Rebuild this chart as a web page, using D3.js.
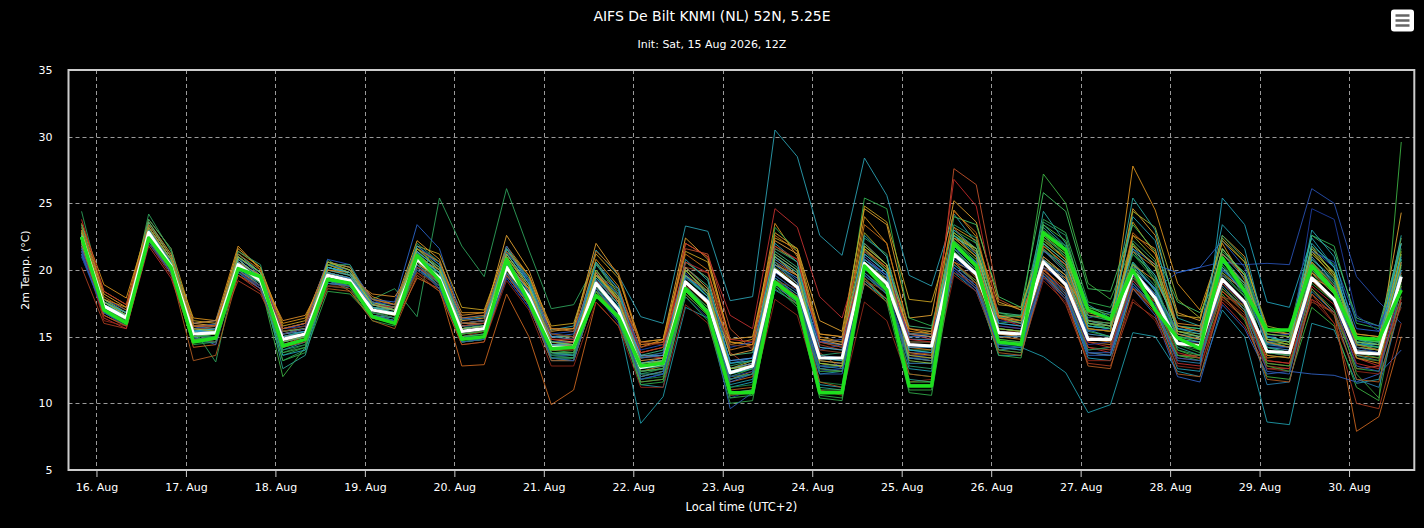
<!DOCTYPE html>
<html>
<head>
<meta charset="utf-8">
<script src="https://cdn.jsdelivr.net/npm/d3@7"></script>
<style>
html,body{margin:0;padding:0;background:#000;}
svg{display:block;}
</style>
</head>
<body>
<svg id="chart" width="1424" height="528"></svg>
<script>
// ---------- DATA ----------
const titleText = "AIFS De Bilt KNMI (NL) 52N, 5.25E";
const subtitleText = "Init: Sat, 15 Aug 2026, 12Z";
const yAxisTitle = "2m Temp. (°C)";
const xAxisTitle = "Local time (UTC+2)";
const initTime = "2026-08-15T18:00:00Z";   // first valid time (UTC)
const stepHours = 6;
const utcOffsetHours = 2;
const yTicks = [5, 10, 15, 20, 25, 30, 35];
const dayLabels = ["16. Aug","17. Aug","18. Aug","19. Aug","20. Aug","21. Aug","22. Aug","23. Aug",
                   "24. Aug","25. Aug","26. Aug","27. Aug","28. Aug","29. Aug","30. Aug"];

// ensemble mean (white)
const meanSeries = [22.5,17.3,16.4,22.8,20.3,15.2,15.3,20.4,19.2,14.8,
                    15.2,19.6,19.2,17.0,16.7,20.8,19.4,15.4,15.6,20.2,
                    18.0,14.2,14.2,19.0,17.0,12.7,13.0,19.1,17.6,12.3,
                    12.8,20.0,18.7,13.4,13.4,20.5,19.0,14.4,14.3,21.2,
                    19.7,15.3,15.2,20.6,18.9,14.8,14.8,19.9,17.9,14.5,
                    14.3,19.3,17.6,13.9,13.8,19.4,17.8,13.8,13.7,19.5];
// control run (bright green)
const controlSeries = [22.5,17.0,16.0,22.4,20.2,14.6,14.9,20.1,19.5,14.3,
                       14.8,19.3,19.0,16.5,16.0,21.1,19.2,14.8,15.0,20.8,
                       17.6,14.1,14.2,18.1,16.5,12.8,13.0,18.6,16.8,10.8,
                       10.8,19.1,17.8,10.8,10.8,20.3,18.5,11.3,11.3,22.0,
                       20.3,14.6,14.4,22.8,21.5,17.0,16.3,20.0,17.0,14.9,
                       14.1,20.9,18.4,15.5,15.5,20.3,18.4,14.9,14.8,18.5];

// ensemble members
const m01 = [22.0,17.6,16.8,23.0,20.8,15.8,15.9,20.9,19.8,15.6, 16.0,20.2,19.8,17.5,17.2,21.3,20.2,16.3,16.5,21.3, 19.4,15.5,15.8,21.5,19.6,16.5,16.0,23.3,22.9,17.7, 18.0,30.5,28.5,22.6,21.1,28.4,25.6,19.6,18.8,24.2, 22.0,16.5,16.0,21.5,19.8,15.5,15.0,20.5,18.5,15.0, 14.8,20.0,18.5,14.5,14.2,20.5,18.6,14.5,14.0,20.0];
const m02 = [23.0,17.0,16.0,22.4,19.8,14.8,14.8,19.8,18.6,14.0, 14.6,19.0,18.8,16.6,16.2,20.2,18.8,14.8,15.0,19.6, 17.4,13.4,13.4,18.2,16.2,8.5,10.5,17.2,16.4,11.4, 11.8,18.5,17.5,12.2,12.4,19.0,17.8,13.4,13.2,19.8, 18.4,14.0,14.2,13.5,12.3,9.3,9.9,15.3,15.0,12.4, 12.0,17.0,15.0,8.6,8.4,16.0,15.5,11.5,11.8,17.5];
const m03 = [24.4,17.8,16.6,24.2,21.4,15.6,13.1,20.6,19.0,13.2, 14.0,20.8,19.6,17.8,18.6,16.5,25.4,21.8,19.5,26.1, 21.5,17.1,17.4,20.5,18.0,13.5,13.8,19.5,18.0,13.0, 13.2,21.0,19.6,14.2,14.0,21.5,20.0,15.0,15.2,22.0, 20.5,16.0,16.2,22.0,20.0,15.8,15.6,20.5,18.4,15.2, 15.0,20.0,18.4,14.6,14.8,20.4,18.6,14.6,14.6,20.2];
const m04 = [22.8,17.2,16.2,22.6,20.4,15.0,15.2,20.2,19.0,12.0, 14.2,19.8,19.4,17.2,16.8,20.6,19.2,15.2,15.4,20.0, 17.6,13.6,13.6,18.6,16.4,12.0,12.4,18.6,17.2,12.0, 12.6,19.4,18.2,12.8,12.8,20.2,18.8,14.0,14.0,23.0, 22.0,16.8,16.4,27.2,25.0,19.0,17.8,22.0,19.0,14.0, 13.4,18.2,16.2,12.0,11.8,17.2,15.8,11.2,10.2,29.6];
const m05 = [23.5,18.9,17.9,23.4,21.0,16.4,16.2,21.8,20.0,16.0, 16.4,20.4,19.8,18.0,17.4,21.6,20.6,16.8,16.8,21.8, 19.6,15.0,15.0,20.8,18.8,13.8,14.2,22.0,21.0,14.6, 14.4,23.5,21.0,15.0,14.6,24.0,22.0,15.6,15.2,24.5, 22.5,16.5,16.5,21.5,20.0,16.0,15.6,27.8,24.5,19.0, 17.0,22.0,19.2,14.6,14.2,20.0,18.4,14.2,14.0,22.0];
const m06 = [21.4,16.6,15.8,22.0,19.8,14.6,14.8,19.8,18.6,14.4, 15.0,19.0,18.8,16.8,16.4,20.2,19.0,15.2,15.4,20.0, 18.2,14.2,14.4,19.6,18.6,14.4,14.6,21.6,21.2,15.6, 14.0,20.6,19.6,13.8,12.6,21.0,19.6,13.6,13.4,27.6, 26.4,17.8,17.0,20.2,18.2,14.2,14.0,18.6,16.8,13.6, 13.6,18.4,17.0,13.2,13.0,18.6,16.8,12.6,12.8,18.0];
const m07 = [22.2,16.8,16.0,22.4,20.2,14.2,14.4,20.2,19.0,14.6, 15.0,19.4,18.4,16.4,16.0,19.4,18.6,12.8,12.9,18.2, 15.0,9.9,11.0,17.6,15.8,12.0,12.4,18.2,16.6,11.6, 12.0,19.0,17.4,12.6,12.4,19.0,17.6,13.4,13.2,20.2, 18.6,14.6,14.4,19.6,17.8,13.8,13.6,18.8,17.0,13.6, 13.4,18.4,16.8,13.0,12.8,18.6,16.8,7.9,9.0,15.0];
const m08 = [23.2,18.2,17.2,23.6,21.2,16.0,15.8,21.6,20.2,15.4, 15.6,20.6,20.2,17.8,17.4,22.2,20.8,16.2,16.4,22.6, 20.0,15.4,15.6,22.0,19.6,14.2,14.8,22.4,20.8,14.8, 15.0,22.8,21.6,16.2,15.4,24.6,23.4,16.4,16.6,25.2, 23.6,17.6,17.0,22.4,20.8,16.2,16.0,24.6,22.6,16.8, 16.2,22.6,21.0,15.2,15.0,21.4,19.4,15.0,14.8,24.3];
const m09 = [21.2,17.8,16.8,22.6,20.6,15.6,16.0,20.6,19.6,15.6, 16.0,20.6,20.2,17.8,17.0,21.8,20.6,16.0,16.2,21.0, 18.6,14.6,14.6,19.4,17.8,13.4,13.8,19.8,18.0,13.2, 13.4,20.6,19.2,14.0,14.4,21.0,19.6,15.2,15.0,21.6, 20.6,16.2,16.0,21.6,20.0,16.4,16.8,20.0,18.6,19.8, 20.2,20.6,20.4,20.5,20.4,26.1,25.0,19.5,17.6,16.0];
const m10 = [22.6,17.4,16.6,23.0,20.6,15.4,15.6,20.6,19.4,14.2, 14.8,19.4,19.0,16.8,16.4,21.0,19.6,15.2,15.4,20.6, 18.2,14.0,13.8,19.2,17.0,12.4,12.6,19.6,18.2,12.2, 12.6,23.2,21.4,14.6,14.2,25.4,24.6,16.4,15.8,22.6, 21.6,16.6,16.6,23.8,22.8,17.6,17.2,21.2,19.6,15.8, 15.6,21.4,19.8,15.6,15.4,22.6,21.8,16.0,15.6,21.6];
const m11 = [21.0,17.0,16.2,22.4,20.0,15.0,14.4,20.0,18.8,14.6, 15.0,19.8,19.4,17.2,17.0,20.6,19.2,15.0,15.0,19.4, 17.2,13.6,13.4,18.4,16.4,11.8,12.2,18.6,17.0,11.6, 12.2,19.4,18.0,12.6,12.8,19.6,18.2,13.4,13.4,20.0, 18.6,14.2,14.0,19.6,18.0,13.6,13.6,18.6,16.6,12.0, 11.6,17.4,15.6,12.2,12.4,12.2,12.1,11.6,12.2,14.0];
const m12 = [21.6,17.2,16.4,22.6,20.2,15.4,15.6,20.4,19.4,15.0, 15.4,20.2,19.8,17.4,17.0,21.2,19.8,15.8,16.0,20.8, 18.4,14.6,14.6,19.6,17.6,13.0,13.4,19.6,18.0,12.6, 13.0,20.4,19.4,13.6,13.4,20.8,19.6,14.4,14.2,21.4, 19.8,15.2,15.0,20.8,19.4,15.0,14.8,20.4,18.6,15.2, 14.8,20.6,18.8,14.4,14.2,20.6,19.0,14.4,14.4,20.6];
const m13 = [22.4,16.8,15.8,22.2,19.8,14.4,14.6,19.8,19.2,13.6, 14.2,18.8,18.6,16.2,15.8,20.4,18.8,14.6,14.8,20.2, 17.6,13.6,13.8,18.6,16.4,12.2,12.6,18.2,16.6,10.6, 10.8,18.6,17.4,10.8,10.8,19.6,18.2,11.4,11.4,21.6, 20.0,14.6,14.4,22.4,21.2,16.6,16.2,19.6,17.0,14.4, 13.8,20.4,18.0,14.8,14.8,19.8,17.6,14.4,14.2,18.4];
const m14 = [20.2,16.0,15.6,22.0,19.6,14.8,15.0,19.2,18.2,14.6, 15.2,19.2,18.8,16.6,16.4,20.0,18.8,15.0,15.4,19.6, 17.4,14.0,14.2,18.6,17.6,14.2,14.6,20.2,19.8,13.8, 12.6,21.6,20.8,14.4,14.0,19.2,17.8,13.6,13.8,20.6, 19.2,14.4,14.6,19.6,17.4,13.0,12.8,17.6,16.4,13.4, 13.2,17.8,16.4,12.8,12.6,18.2,16.0,10.0,9.6,16.0];
const m15 = [21.8,16.4,15.6,21.8,19.4,14.6,14.8,19.6,18.4,14.4, 14.8,19.2,18.8,16.8,16.4,20.6,19.2,15.6,15.8,20.4, 18.6,14.4,14.6,19.8,17.6,13.6,13.4,22.0,21.0,16.6, 15.6,24.6,23.2,18.0,16.4,22.0,20.4,15.2,14.8,23.2, 21.2,15.8,15.6,20.0,18.4,14.2,13.8,19.6,17.2,13.0, 12.8,17.6,15.8,12.6,12.6,17.8,16.8,13.4,12.8,18.8];
const m16 = [22.6,17.6,16.8,23.2,20.8,15.8,15.6,21.0,19.6,15.2, 15.6,19.6,19.0,17.6,17.2,20.6,19.0,15.6,15.8,21.6, 19.2,15.2,15.0,20.6,18.2,13.4,13.6,19.0,17.6,12.6, 13.2,21.8,20.6,14.6,14.4,22.8,21.0,15.2,15.4,22.6, 21.0,16.4,16.0,20.8,19.6,15.6,15.4,24.4,23.2,17.8, 16.4,22.4,20.6,15.8,15.4,21.4,19.8,15.2,15.0,22.4];
const m17 = [22.0,17.0,16.2,22.6,20.0,15.0,15.0,20.2,18.8,13.6, 14.0,19.2,18.6,16.6,16.4,20.2,18.6,14.8,14.8,19.8, 17.4,13.2,13.2,18.4,16.4,11.4,11.2,18.4,17.0,11.2, 11.6,18.8,17.6,11.4,11.2,19.2,17.8,12.6,12.4,20.2, 18.8,13.6,13.6,19.6,18.0,13.4,13.2,18.8,17.2,12.6, 12.4,25.4,23.4,17.6,17.2,22.4,20.2,14.6,14.2,20.4];
const m18 = [23.0,17.6,16.6,23.6,21.0,15.6,15.6,21.2,19.8,15.4, 15.6,20.4,20.0,17.6,17.2,21.4,20.0,16.0,16.2,21.2, 19.0,15.0,15.0,20.0,18.0,13.6,14.0,20.2,18.8,13.6, 13.8,21.4,20.2,14.8,14.6,22.0,20.4,15.8,15.6,22.6, 21.4,16.8,16.6,23.2,21.6,17.2,16.8,21.4,19.4,15.8, 15.6,21.2,19.8,15.0,14.6,22.6,21.4,16.4,15.8,22.0];
const m19 = [21.4,16.8,15.8,22.2,19.8,14.8,15.0,20.0,18.6,14.2, 14.6,19.0,18.8,16.4,16.2,20.2,18.6,14.6,14.8,19.4, 17.2,13.6,13.6,18.2,16.0,11.8,12.2,18.0,16.4,10.4, 11.0,19.0,17.8,12.4,12.6,19.6,18.2,13.6,13.6,20.0, 18.4,14.4,14.4,19.4,17.8,14.0,14.2,18.8,17.4,14.8, 14.6,19.0,17.6,14.2,14.2,24.6,23.8,16.6,15.4,20.8];
const m20 = [22.8,17.4,16.4,23.2,20.4,15.4,15.4,20.8,19.4,15.0, 15.4,20.2,19.6,17.2,17.0,21.4,19.6,15.6,15.8,20.4, 18.2,14.4,14.4,19.6,17.4,12.8,13.2,19.4,18.0,12.8, 13.2,20.6,19.0,13.6,13.8,21.4,19.8,14.6,14.6,22.2, 20.6,16.4,16.6,22.6,21.0,16.2,16.0,20.6,18.8,15.0, 14.8,19.6,18.0,14.8,14.6,20.8,19.4,14.8,14.6,19.6];
const m21 = [22.6,17.2,16.2,22.6,20.2,15.2,15.4,20.0,18.8,14.8, 15.2,19.8,19.4,17.2,17.0,20.4,19.0,15.4,15.6,20.0, 17.8,14.0,14.0,18.8,17.0,12.4,12.8,19.0,17.4,11.8, 12.4,20.2,19.0,13.0,12.8,20.6,19.2,14.2,14.0,21.2, 19.4,15.0,14.8,20.0,18.6,14.6,14.4,21.4,20.2,14.8, 14.4,18.6,17.2,13.4,13.6,19.2,17.6,13.6,13.4,19.2];
const m22 = [22.2,17.4,16.6,22.8,20.4,15.4,15.4,20.6,19.2,15.0, 15.4,19.8,19.4,17.0,16.8,20.8,19.4,15.4,15.6,20.2, 18.0,14.2,14.2,19.2,17.2,12.6,12.8,19.2,17.6,12.2, 12.6,20.0,18.8,13.2,13.0,20.4,19.0,14.4,14.2,21.8, 20.6,15.4,15.2,24.4,22.0,17.4,16.4,25.4,23.0,16.4, 15.8,20.6,19.0,15.0,14.6,20.8,19.2,14.8,14.4,22.6];
const m23 = [21.8,16.2,15.8,22.4,20.0,14.8,14.6,19.8,18.8,14.4, 14.8,18.8,18.6,16.6,16.0,19.8,18.4,14.4,14.6,19.2, 17.0,12.8,12.8,17.6,15.8,11.2,11.2,17.4,16.0,10.6, 10.8,17.8,16.6,11.0,10.6,17.6,16.2,11.6,11.8,19.6, 18.4,14.0,13.8,19.2,17.6,13.2,13.2,17.8,16.2,12.8, 12.6,18.0,16.6,12.6,12.4,17.8,16.0,12.4,12.2,18.6];
const m24 = [21.6,17.8,17.0,23.0,20.8,16.0,16.2,21.0,19.6,15.6, 16.0,20.4,20.0,17.8,17.6,23.4,21.6,16.4,16.2,21.8, 19.2,15.0,15.2,20.4,18.6,13.4,13.6,20.2,18.6,13.0, 13.4,21.2,20.0,14.6,14.4,20.8,19.6,15.0,15.0,21.8, 20.6,16.0,15.8,21.4,20.4,16.0,15.8,21.6,20.4,19.8, 20.2,22.2,20.2,15.4,15.2,21.6,20.2,15.6,15.4,20.8];
const m25 = [23.4,18.4,17.4,23.8,21.6,16.2,16.0,21.4,20.2,15.8, 16.2,20.6,20.2,17.6,17.0,21.8,21.2,17.2,17.0,21.6, 19.6,15.8,16.0,21.2,19.4,14.6,14.8,21.4,20.6,14.4, 14.8,22.4,21.6,15.2,15.0,24.8,23.6,17.8,17.6,23.2, 22.2,17.4,17.2,22.2,20.8,16.8,16.4,23.6,21.2,16.6, 16.4,22.2,20.6,15.6,15.2,21.8,19.6,15.0,14.8,21.2];
const m26 = [22.0,17.6,16.8,23.2,20.6,15.6,15.6,20.8,19.4,15.2, 15.4,20.2,19.8,17.4,17.2,21.4,20.0,16.0,16.2,21.2, 19.0,15.0,14.8,19.8,17.6,13.6,13.6,20.0,18.2,13.2, 13.4,20.8,19.6,14.2,14.0,21.2,19.8,14.8,14.8,21.6, 20.0,15.6,15.4,21.0,19.6,15.2,15.0,20.2,18.6,15.4, 15.0,21.2,19.4,14.2,14.0,21.0,19.0,14.2,14.0,20.6];
const m27 = [22.2,17.0,16.4,22.6,20.0,15.0,15.2,20.2,19.0,14.8, 15.0,19.6,19.2,16.8,16.6,20.6,19.2,15.2,15.4,19.8, 17.8,13.8,13.6,18.8,16.8,12.4,12.6,18.8,17.2,11.8, 12.2,19.4,17.8,12.4,12.4,19.6,18.2,13.0,13.0,20.4, 19.2,14.4,14.6,19.8,18.4,14.0,14.2,19.4,17.6,13.6, 13.4,18.6,17.0,12.8,12.4,19.0,17.6,12.2,10.4,19.0];
const m28 = [22.4,17.6,16.6,23.0,20.6,15.6,15.4,20.8,19.4,15.2, 15.6,20.0,19.6,17.0,16.6,21.0,20.0,16.0,16.0,21.0, 18.8,14.8,14.6,19.8,17.8,13.2,13.4,20.6,19.4,13.6, 14.0,22.2,21.2,14.8,14.4,21.8,20.4,15.2,15.0,22.4, 21.6,16.6,16.2,21.8,20.4,16.2,15.8,21.8,20.4,15.8, 15.4,20.8,19.0,14.8,14.4,19.8,18.2,14.0,13.8,19.8];
const m29 = [21.2,16.8,16.0,22.4,20.0,15.0,15.2,20.0,19.0,14.4, 14.8,19.0,18.8,16.8,16.4,20.2,18.8,14.8,15.0,19.6, 17.6,13.8,13.6,18.6,16.6,12.0,12.4,18.4,16.8,11.8, 12.2,19.4,18.2,12.8,12.6,19.8,18.4,13.4,13.2,20.4, 19.0,14.4,14.2,19.8,18.2,13.8,13.6,19.2,17.4,13.2, 13.0,18.8,17.0,11.4,11.6,18.4,16.8,11.8,11.2,17.6];
const m30 = [22.6,17.4,16.4,22.8,20.4,15.2,15.4,20.4,19.2,14.8, 15.2,19.6,19.2,17.0,16.8,20.8,19.4,15.4,15.6,20.2, 18.0,14.2,14.2,19.0,17.0,12.8,13.0,19.2,17.6,12.4, 12.8,20.0,18.8,13.4,13.4,20.6,19.2,14.4,14.4,24.0, 23.4,18.0,17.2,25.8,24.4,18.6,18.4,23.4,21.4,17.6, 16.8,20.2,18.6,14.6,14.4,20.2,18.6,14.4,14.2,20.8];
const m31 = [22.0,17.0,16.0,22.4,20.0,14.8,15.0,19.8,18.8,13.2, 13.8,18.4,18.2,16.4,16.0,20.0,18.8,14.6,14.8,19.8, 17.6,13.4,13.2,18.4,16.2,11.4,11.6,18.0,16.2,10.0, 10.2,18.8,17.2,10.4,10.2,19.4,17.6,10.8,10.6,20.6, 19.0,13.6,13.4,21.6,20.2,15.4,15.0,19.0,17.2,13.6, 13.2,19.0,17.2,13.0,12.8,18.6,17.0,12.6,12.4,18.0];
const m32 = [22.8,17.2,16.2,22.8,20.2,14.6,14.6,20.4,19.6,12.6, 13.6,19.2,19.0,16.6,16.2,21.0,19.6,15.0,15.2,20.6, 18.0,13.8,13.6,18.8,16.6,12.2,12.2,18.8,17.0,10.8, 11.0,19.6,18.4,11.2,11.0,20.2,18.6,11.8,11.6,21.8, 20.2,14.2,14.0,22.8,21.8,16.2,15.8,20.6,18.4,14.2, 13.6,21.0,19.0,14.2,13.8,20.6,18.8,13.6,13.2,19.6];
const m33 = [22.2,17.8,17.2,22.6,20.6,16.0,16.2,20.2,19.6,16.2, 16.6,19.8,19.4,18.2,18.0,20.4,19.6,16.6,16.8,20.2, 18.6,15.6,15.6,19.6,18.0,14.6,14.8,19.6,18.4,14.6, 14.4,20.4,19.6,15.2,15.0,20.2,19.4,15.6,15.4,20.6, 19.8,16.4,16.2,20.2,19.4,16.6,16.4,20.4,19.2,16.0, 15.8,19.6,18.6,15.4,15.2,19.4,18.6,15.2,15.0,19.2];
const m34 = [21.4,17.4,16.6,22.4,20.4,15.6,15.8,20.2,19.2,15.6, 15.8,20.8,20.4,17.6,17.4,21.6,20.4,16.4,16.6,21.4, 19.2,15.2,15.4,19.8,18.2,14.0,14.4,19.4,18.4,14.2, 14.6,19.8,18.8,14.6,14.8,20.0,19.2,15.2,15.2,20.8, 19.6,15.8,15.6,20.2,19.0,15.4,15.6,19.6,18.0,15.6, 15.4,20.0,18.6,15.0,15.2,21.4,20.6,16.2,15.8,19.2];
const m35 = [23.4,17.6,16.4,23.8,21.6,15.4,15.2,21.4,20.4,14.0, 14.4,20.4,20.4,17.4,17.2,22.0,20.6,15.8,16.0,21.6, 19.4,14.6,14.4,20.4,18.4,12.6,12.8,20.6,19.4,12.0, 12.2,21.6,20.6,12.6,12.4,22.4,21.2,12.8,12.6,23.4, 22.4,15.6,15.4,23.6,22.6,16.6,16.2,22.2,20.6,14.6, 14.4,22.6,20.8,14.2,13.8,21.8,20.4,14.2,14.0,21.2];
const m36 = [21.8,17.0,16.2,22.2,20.0,15.6,15.6,19.6,18.8,15.4, 15.8,18.8,18.8,17.0,16.8,19.8,18.8,16.0,16.2,19.6, 18.4,15.2,15.0,18.8,17.8,14.6,14.4,18.8,17.8,14.4, 14.2,19.2,18.6,14.0,13.8,19.2,18.4,14.6,14.6,19.8, 19.0,15.4,15.4,19.4,18.6,15.0,14.8,18.6,17.6,14.4, 14.2,18.0,17.4,13.8,13.6,17.6,16.8,13.4,13.2,17.2];
const m37 = [23.0,17.8,16.8,23.2,20.8,15.2,15.2,21.0,19.8,14.8, 15.2,20.4,19.8,17.2,16.8,21.6,20.0,15.4,15.6,21.0, 18.6,14.4,14.2,20.0,17.8,12.8,13.0,20.0,18.2,12.6, 12.8,21.0,19.8,13.0,12.8,21.6,20.0,13.6,13.4,22.8, 21.4,15.6,15.4,22.0,20.6,15.6,15.4,22.6,20.8,15.4, 15.2,21.6,19.6,14.8,14.4,21.2,19.6,14.2,14.0,21.4];
const m38 = [22.4,17.6,16.8,23.4,21.0,15.4,15.4,21.2,19.8,14.6, 15.0,20.0,19.6,17.2,17.0,21.8,20.4,15.8,15.8,21.6, 19.0,14.6,14.4,20.6,18.6,13.0,13.2,20.8,19.2,13.0, 13.2,22.0,20.6,13.4,13.2,22.6,21.0,14.0,13.8,23.0, 21.6,15.4,15.2,23.4,21.8,15.8,15.6,24.0,22.2,15.6, 15.4,23.4,21.6,15.0,14.6,23.0,21.0,14.8,14.6,22.0];
const m39 = [23.8,18.4,17.4,23.2,20.6,15.8,15.8,20.6,19.4,15.6, 16.0,19.4,19.0,17.4,17.2,20.2,19.2,15.8,16.0,19.8, 18.4,14.8,14.8,19.2,17.8,13.8,14.2,20.6,19.8,14.8, 14.6,21.8,20.8,14.6,14.2,21.4,20.2,14.8,14.6,26.8, 24.8,16.4,15.8,20.6,18.8,14.6,14.2,19.2,17.6,13.8, 13.4,19.0,17.4,13.2,13.0,18.8,17.4,13.0,12.6,17.8];
const m40 = [22.6,17.2,16.2,23.0,20.6,15.0,15.0,20.6,19.4,13.8, 14.4,19.8,19.4,16.8,16.4,21.0,19.6,14.8,15.0,20.4, 18.2,13.6,13.4,19.0,17.0,11.8,12.0,19.2,17.6,11.2, 11.4,20.2,18.8,11.6,11.4,20.8,19.2,12.2,12.0,22.4, 21.0,14.8,14.6,23.0,21.8,16.0,15.6,21.2,19.2,14.4, 14.0,20.4,18.6,13.6,13.4,20.6,19.0,13.4,13.2,20.8];
const m41 = [21.0,16.8,16.0,22.0,19.8,15.2,15.4,19.8,18.8,15.2, 15.6,19.6,19.4,17.0,16.8,20.0,18.8,15.0,15.2,19.6, 17.6,13.8,13.8,18.6,16.8,12.4,12.6,18.6,17.0,12.0, 12.4,19.6,18.4,12.8,13.0,19.6,18.4,13.8,13.8,20.2, 18.8,14.6,14.6,19.8,18.4,14.4,14.6,19.8,18.2,14.6, 14.6,19.6,18.6,14.6,14.8,20.2,18.8,14.2,13.8,18.6];
const m42 = [22.8,17.4,16.4,22.8,20.4,15.2,15.2,20.6,19.6,15.0, 15.2,20.0,19.8,17.4,17.0,21.2,19.8,15.6,15.8,20.6, 18.6,14.4,14.4,19.8,17.6,12.8,13.2,20.2,18.6,12.6, 13.0,21.0,19.6,13.2,13.0,21.6,20.2,13.8,13.6,22.4, 21.0,15.2,15.0,21.0,19.6,14.8,14.6,22.6,21.6,15.2, 14.8,19.8,18.4,13.6,13.4,19.8,18.6,13.4,13.0,19.4];
const m43 = [22.4,17.2,16.4,22.6,20.4,15.0,15.2,20.4,19.4,14.4, 14.8,19.4,19.0,16.6,16.2,21.2,19.8,15.0,15.2,20.8, 18.0,13.8,13.8,18.6,16.6,12.4,12.6,18.6,17.0,10.8, 11.0,19.2,18.0,11.0,11.0,20.4,18.8,11.6,11.6,22.2, 20.8,14.8,14.6,23.4,22.2,17.2,16.6,20.4,17.6,15.0, 14.6,20.8,18.8,15.2,15.0,20.6,18.6,14.8,14.6,19.2];
const m44 = [21.8,17.2,16.4,22.8,20.4,15.4,15.4,20.6,19.2,15.0, 15.2,19.8,19.4,17.4,17.0,21.0,19.8,15.6,15.8,20.4, 18.2,14.4,14.2,19.2,17.2,12.8,13.0,19.2,17.8,12.6, 13.0,20.4,19.0,13.4,13.4,20.8,19.4,14.2,14.2,21.0, 19.6,15.0,15.0,20.8,19.2,14.8,14.8,20.0,18.2,14.8, 14.6,20.2,18.2,13.8,13.6,20.0,18.4,14.0,13.8,20.0];
const m45 = [22.0,16.6,15.8,22.2,19.8,13.2,13.6,19.6,18.6,14.2, 14.6,18.6,18.4,16.2,15.6,19.6,18.4,14.4,14.6,19.6, 17.4,13.2,13.2,18.4,16.6,11.6,11.8,18.4,16.8,11.0, 11.2,19.2,18.0,11.6,11.2,19.4,17.8,12.2,12.0,20.6, 19.0,13.8,13.6,19.8,18.0,12.8,12.6,18.6,17.0,12.2, 12.0,18.0,16.4,11.8,11.6,18.2,16.6,11.8,11.6,17.6];
const m46 = [22.6,17.4,16.6,23.0,20.6,15.4,15.6,20.8,19.4,14.8, 15.2,20.2,19.8,17.2,16.8,21.0,19.8,15.6,15.8,20.6, 18.4,14.4,14.4,19.4,17.4,13.0,13.2,19.6,18.0,12.4, 12.8,21.0,19.8,13.4,13.2,21.2,19.8,14.0,13.8,22.6, 21.2,16.0,15.8,22.0,20.6,15.8,15.6,21.6,19.6,15.6, 15.2,21.6,19.6,14.6,14.2,22.0,20.2,14.6,14.4,21.0];
const m47 = [22.2,17.0,16.0,22.4,20.0,14.8,14.8,20.2,19.0,13.8, 14.2,19.2,18.8,16.4,16.0,20.4,19.0,14.6,14.8,20.0, 17.8,13.4,13.4,18.4,16.4,11.6,11.8,18.4,16.8,10.4, 10.6,19.0,17.6,10.6,10.4,19.8,18.4,11.0,11.0,21.4, 20.0,14.0,13.8,22.2,21.0,16.0,15.6,19.8,17.8,14.0, 13.6,19.8,18.0,13.8,13.6,20.0,18.2,13.8,13.4,18.8];
const m48 = [23.0,18.0,17.0,23.4,21.0,15.8,15.8,21.2,20.0,15.6, 16.0,20.6,20.0,17.8,17.4,21.6,20.6,16.4,16.6,21.4, 19.6,15.6,15.4,21.4,19.8,14.4,14.6,21.2,20.0,14.0, 14.4,22.6,21.4,14.8,14.6,23.4,22.0,15.4,15.2,24.4, 22.8,16.4,16.2,21.8,20.4,15.6,15.4,22.8,21.2,15.8, 15.4,21.2,19.6,14.6,14.2,20.6,18.8,14.4,14.0,20.6];
const m49 = [21.2,16.8,16.0,22.2,19.8,14.6,14.8,19.8,18.6,14.6, 15.0,19.2,18.8,16.6,16.2,20.4,19.0,14.6,14.8,19.8, 17.6,13.4,13.2,18.6,16.6,11.8,12.2,18.6,16.8,9.6, 10.8,19.2,17.8,12.2,12.2,19.8,18.2,13.0,13.0,20.2, 18.8,14.2,14.2,19.6,18.0,13.8,13.8,19.0,17.2,13.4, 13.2,19.2,17.4,12.4,12.2,19.4,17.6,12.8,12.4,18.6];
const m50 = [22.8,17.6,16.6,23.2,20.8,15.6,15.4,21.0,19.8,14.6, 15.0,20.6,20.0,17.4,17.0,21.6,20.2,15.6,15.8,21.2, 18.8,14.6,14.4,19.6,17.8,13.0,13.2,20.0,18.4,12.6, 12.8,21.2,20.0,13.0,12.8,21.8,20.4,13.2,13.0,22.8, 21.6,15.6,15.4,22.6,21.2,16.0,15.8,22.0,20.2,15.4, 15.0,21.6,19.6,14.8,14.6,21.6,19.8,14.6,14.4,20.4];

const members = [m01,m02,m03,m04,m05,m06,m07,m08,m09,m10,m11,m12,m13,m14,m15,m16,m17,m18,m19,m20,m21,m22,m23,m24,m25,
                 m26,m27,m28,m29,m30,m31,m32,m33,m34,m35,m36,m37,m38,m39,m40,m41,m42,m43,m44,m45,m46,m47,m48,m49,m50];
const memberColors = ["#2a9fb0","#1f9aa8","#2ea05a","#3cb043","#d9901c","#c0502a","#c8641e","#e0a030",
                      "#2850b0","#30b050","#3060c0","#3a8ac8","#28a048","#a83c20","#c03030","#a0b030",
                      "#20a0b8","#40b880","#1e3c9c","#2a9d6a","#d07a20","#28a8a0","#902818","#2a64c8",
                      "#c8a020","#4a9ad0","#38a038","#e09a40","#2880b0","#40c060",
                      "#30a848","#2aa090","#d88a28","#2450b8","#2a9d6a","#8a3a1e","#9ab028","#26a4b4",
                      "#c02828","#208840","#203a98","#e08a20","#50c040","#4090c8","#b05a20","#30b0c0",
                      "#38a848","#c87018","#2a5ab0","#8ac040"];

// ---------- CHART ----------
const svg = d3.select("#chart");
const W = 1424, H = 528;
const plot = {left: 68.5, top: 70, right: 1414.3, bottom: 470};
const font = "'DejaVu Sans', Verdana, sans-serif";

const t0 = new Date(initTime).getTime() + utcOffsetHours * 3600e3; // local time shown as UTC
const times = meanSeries.map((_, i) => new Date(t0 + i * stepHours * 3600e3));
const pad = 3.5 * 3600e3;

const x = d3.scaleUtc()
  .domain([new Date(times[0].getTime() - pad), new Date(times[times.length - 1].getTime() + pad)])
  .range([plot.left, plot.right]);
const y = d3.scaleLinear().domain([5, 35]).range([plot.bottom, plot.top]);

svg.append("rect").attr("width", W).attr("height", H).attr("fill", "#000");

const dayTicks = d3.utcDay.range(d3.utcDay.ceil(x.domain()[0]), x.domain()[1]);

// grid
const grid = svg.append("g");
grid.selectAll("line.h").data(yTicks.filter(v => v > 5 && v < 35)).join("line")
  .attr("x1", plot.left).attr("x2", plot.right)
  .attr("y1", d => Math.round(y(d)) + 0.5).attr("y2", d => Math.round(y(d)) + 0.5)
  .attr("stroke", "#9a9a9a").attr("stroke-width", 1).attr("stroke-dasharray", "4,3");
grid.selectAll("line.v").data(dayTicks).join("line")
  .attr("x1", d => Math.round(x(d)) + 0.5).attr("x2", d => Math.round(x(d)) + 0.5)
  .attr("y1", plot.top).attr("y2", plot.bottom)
  .attr("stroke", "#9a9a9a").attr("stroke-width", 1).attr("stroke-dasharray", "4,3");

// x axis ticks and labels
const xAxis = d3.axisBottom(x).tickValues(dayTicks)
  .tickFormat((d, i) => dayLabels[i]).tickSize(7).tickPadding(6);
const gx = svg.append("g").attr("transform", `translate(0,${plot.bottom})`).call(xAxis);
gx.select(".domain").remove();
gx.selectAll(".tick line").attr("stroke", "#cccccc");
gx.selectAll(".tick text").attr("fill", "#ffffff")
  .style("font-family", font).style("font-size", "11px");

// y axis labels
const yAxis = d3.axisLeft(y).tickValues(yTicks).tickSize(0).tickPadding(16);
const gy = svg.append("g").attr("transform", `translate(${plot.left},0)`).call(yAxis);
gy.select(".domain").remove();
gy.selectAll(".tick text").attr("fill", "#ffffff")
  .style("font-family", font).style("font-size", "11px");

// series
svg.append("clipPath").attr("id", "clip").append("rect")
  .attr("x", plot.left).attr("y", plot.top)
  .attr("width", plot.right - plot.left).attr("height", plot.bottom - plot.top);
const line = d3.line().x((d, i) => x(times[i])).y(d => y(d));
const series = svg.append("g").attr("clip-path", "url(#clip)");
series.selectAll("path.member").data(members).join("path")
  .attr("class", "member")
  .attr("d", line)
  .attr("fill", "none")
  .attr("stroke", (d, i) => memberColors[i % memberColors.length])
  .attr("stroke-width", 1)
  .attr("stroke-opacity", 0.9)
  .attr("stroke-linejoin", "round");
series.append("path").datum(meanSeries).attr("d", line)
  .attr("fill", "none").attr("stroke", "#ffffff").attr("stroke-width", 3.2)
  .attr("stroke-linejoin", "round");
series.append("path").datum(controlSeries).attr("d", line)
  .attr("fill", "none").attr("stroke", "#1ee01e").attr("stroke-width", 3.5)
  .attr("stroke-linejoin", "round");

// frame
svg.append("rect").attr("x", plot.left).attr("y", plot.top)
  .attr("width", plot.right - plot.left).attr("height", plot.bottom - plot.top)
  .attr("fill", "none").attr("stroke", "#cccccc").attr("stroke-width", 2);

// titles
svg.append("text").attr("x", 712).attr("y", 21).attr("text-anchor", "middle")
  .attr("fill", "#ffffff").style("font-family", font).style("font-size", "14px").text(titleText);
svg.append("text").attr("x", 712).attr("y", 48).attr("text-anchor", "middle")
  .attr("fill", "#ffffff").style("font-family", font).style("font-size", "11px").text(subtitleText);
svg.append("text").attr("x", (plot.left + plot.right) / 2).attr("y", 511).attr("text-anchor", "middle")
  .attr("fill", "#ffffff").style("font-family", font).style("font-size", "11.5px").text(xAxisTitle);
svg.append("text").attr("transform", `translate(29,${(plot.top + plot.bottom) / 2}) rotate(-90)`)
  .attr("text-anchor", "middle")
  .attr("fill", "#ffffff").style("font-family", font).style("font-size", "11px").text(yAxisTitle);

// menu button
const menu = svg.append("g");
menu.append("rect").attr("x", 1391).attr("y", 9.5).attr("width", 23).attr("height", 22).attr("rx", 3)
  .attr("fill", "#ffffff");
menu.selectAll("line").data([15.5, 20.5, 25.5]).join("line")
  .attr("x1", 1395.5).attr("x2", 1409.5).attr("y1", d => d).attr("y2", d => d)
  .attr("stroke", "#666666").attr("stroke-width", 2.5);
</script>
</body>
</html>
